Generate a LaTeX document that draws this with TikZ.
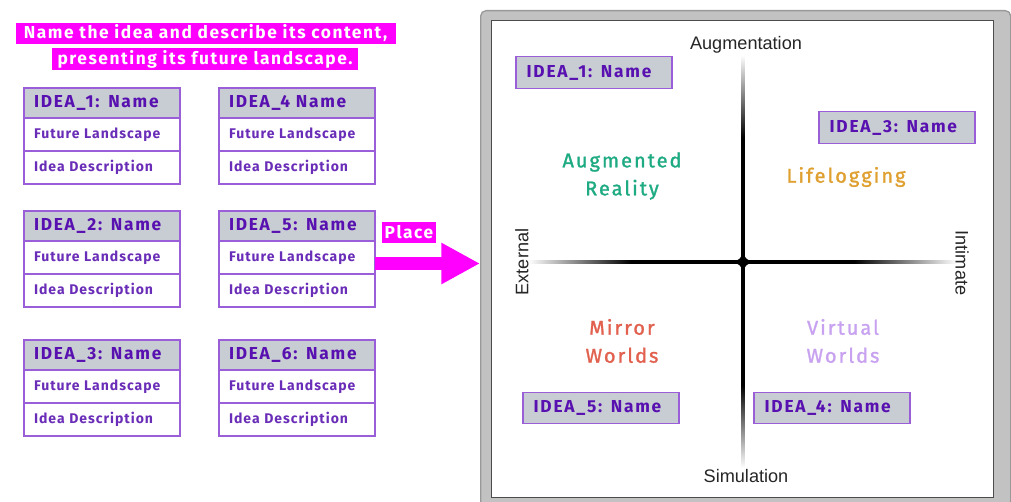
\documentclass[tikz,border=0pt]{standalone}
\usepackage{fontspec}
\setmainfont{Fira Sans}
\newfontfamily\dint{Fira Sans}[LetterSpace=9]
\newfontfamily\dinh{Fira Sans}[LetterSpace=10]
\newfontfamily\dinr{Fira Sans}[LetterSpace=7]
\newfontfamily\dinq{Fira Sans}[LetterSpace=10, FakeBold=1.3]
\newfontfamily\arialf{Liberation Sans}
\usetikzlibrary{arrows.meta}
\definecolor{mag}{HTML}{FF00FF}
\definecolor{bpurple}{HTML}{9A5FD8}
\definecolor{hfill}{HTML}{C8CDD3}
\definecolor{tpurple}{HTML}{5810B0}
\definecolor{rpurple}{HTML}{6A2DB8}
\definecolor{fgray}{HTML}{C2C2C2}
\definecolor{qgreen}{HTML}{1EAA82}
\definecolor{qgold}{HTML}{DFA030}
\definecolor{qred}{HTML}{E2604E}
\definecolor{qviolet}{HTML}{C8A2F0}
\pgfdeclareverticalshading{vaxis}{100bp}{color(0bp)=(white); color(25bp)=(white); color(35bp)=(black); color(65bp)=(black); color(75bp)=(white); color(100bp)=(white)}
\pgfdeclarehorizontalshading{haxis}{100bp}{color(0bp)=(white); color(25bp)=(white); color(37bp)=(black); color(63bp)=(black); color(75bp)=(white); color(100bp)=(white)}
\tikzset{
  hdr/.style={draw=bpurple, line width=0.9pt, outer sep=0pt, fill=hfill, text=tpurple,
    font=\dinh\bfseries\fontsize{13}{13}\selectfont, text width=102pt, align=left,
    inner xsep=7.5pt, inner ysep=0pt, minimum height=22.5pt, anchor=north west},
  row/.style={draw=bpurple, line width=0.9pt, outer sep=0pt, fill=white, text=rpurple,
    font=\dinr\bfseries\fontsize{10.5}{10.5}\selectfont, text width=102pt, align=left,
    inner xsep=7.5pt, inner ysep=0pt, minimum height=24.75pt, anchor=north},
  pbox/.style={draw=bpurple, line width=0.9pt, fill=hfill, text=tpurple,
    font=\dinh\bfseries\fontsize{13}{13}\selectfont, text width=101pt, align=left,
    inner xsep=8pt, inner ysep=0pt, minimum height=23.5pt},
  hl/.style={fill=mag, text=white, inner sep=0pt, font=\dint\bfseries\fontsize{13}{13}\selectfont},
  quad/.style={font=\dinq\fontsize{15}{21}\selectfont, align=center},
  axl/.style={font=\arialf\fontsize{13.6}{13.6}\selectfont, text=black!85},
}
\newcommand\ideacard[4]{%
  \node[hdr] (#1h) at (#2,#3) {#4};
  \node[row] (#1f) at (#1h.south) {Future Landscape};
  \node[row] (#1d) at (#1f.south) {Idea Description};
}
\begin{document}
\begin{tikzpicture}[x=0.75pt,y=-0.75pt]
\useasboundingbox (0,0) rectangle (1011,502);
% title
\node[hl, minimum width=285pt, minimum height=15.5pt] (t1) at (205.5,33.5) {Name the idea and describe its content,};
\node[hl, minimum width=230pt, minimum height=16pt] (t2) at (205,59) {presenting its future landscape.};
% cards
\ideacard{ca}{24}{88}{IDEA\_1: Name}
\ideacard{cd}{219}{88}{IDEA\_4 Name}
\ideacard{cb}{24}{211}{IDEA\_2: Name}
\ideacard{ce}{219}{211}{IDEA\_5: Name}
\ideacard{cc}{24}{340}{IDEA\_3: Name}
\ideacard{cf}{219}{340}{IDEA\_6: Name}
% panel
\node[draw=black!40, fill=fgray, rounded corners=4pt, line width=1pt, minimum width=397.5pt, minimum height=372pt, anchor=north west, inner sep=0pt] (frame) at (480,10) {};
\node[draw=black!70, fill=white, line width=0.8pt, minimum width=377pt, minimum height=357.75pt, anchor=north west, inner sep=0pt] (inner) at (490.5,20) {};
% arrow
\coordinate (arrS) at (ceh.south east |- 0,263.5);
\coordinate (arrE) at (frame.west |- 0,263.5);
\draw[mag, line width=9.75pt, -{Triangle[length=29pt,width=29pt]}] (arrS) -- (arrE);
\node[hl, minimum width=40.5pt, minimum height=15.5pt, font=\dint\bfseries\fontsize{13}{13}\selectfont] (place) at (409,232.5) {Place};
% axes
\shade[shading=vaxis] (741.4,55) rectangle (744.6,468);
\shade[shading=haxis] (528,260.4) rectangle (957,263.6);
\fill[black] (743,251) .. controls (744,257.5) and (746.5,260.5) .. (754,262)
  .. controls (746.5,263.5) and (744,266.5) .. (743,273)
  .. controls (742,266.5) and (739.5,263.5) .. (732,262)
  .. controls (739.5,260.5) and (742,257.5) .. (743,251) -- cycle;
\fill[black] (743,262) circle (4.5);
\node[axl] (aug) at (746,45) {Augmentation};
\node[axl] (sim) at (746,476) {Simulation};
\node[axl, rotate=90] (ext) at (522,262) {External};
\node[axl, rotate=-90] (inti) at (962,263) {Intimate};
% quadrant labels
\node[quad, text=qgreen] (qar) at (622,176) {Augmented\\Reality};
\node[quad, text=qgold] (qll) at (846,177) {Lifelogging};
\node[quad, text=qred] (qmw) at (622,341) {Mirror\\Worlds};
\node[quad, text=qviolet] (qvw) at (843,341) {Virtual\\Worlds};
% panel boxes
\node[pbox] (p1) at (594,72.5) {IDEA\_1: Name};
\node[pbox] (p3) at (897,127.5) {IDEA\_3: Name};
\node[pbox] (p5) at (601,408) {IDEA\_5: Name};
\node[pbox] (p4) at (832,408) {IDEA\_4: Name};
\end{tikzpicture}
\end{document}
